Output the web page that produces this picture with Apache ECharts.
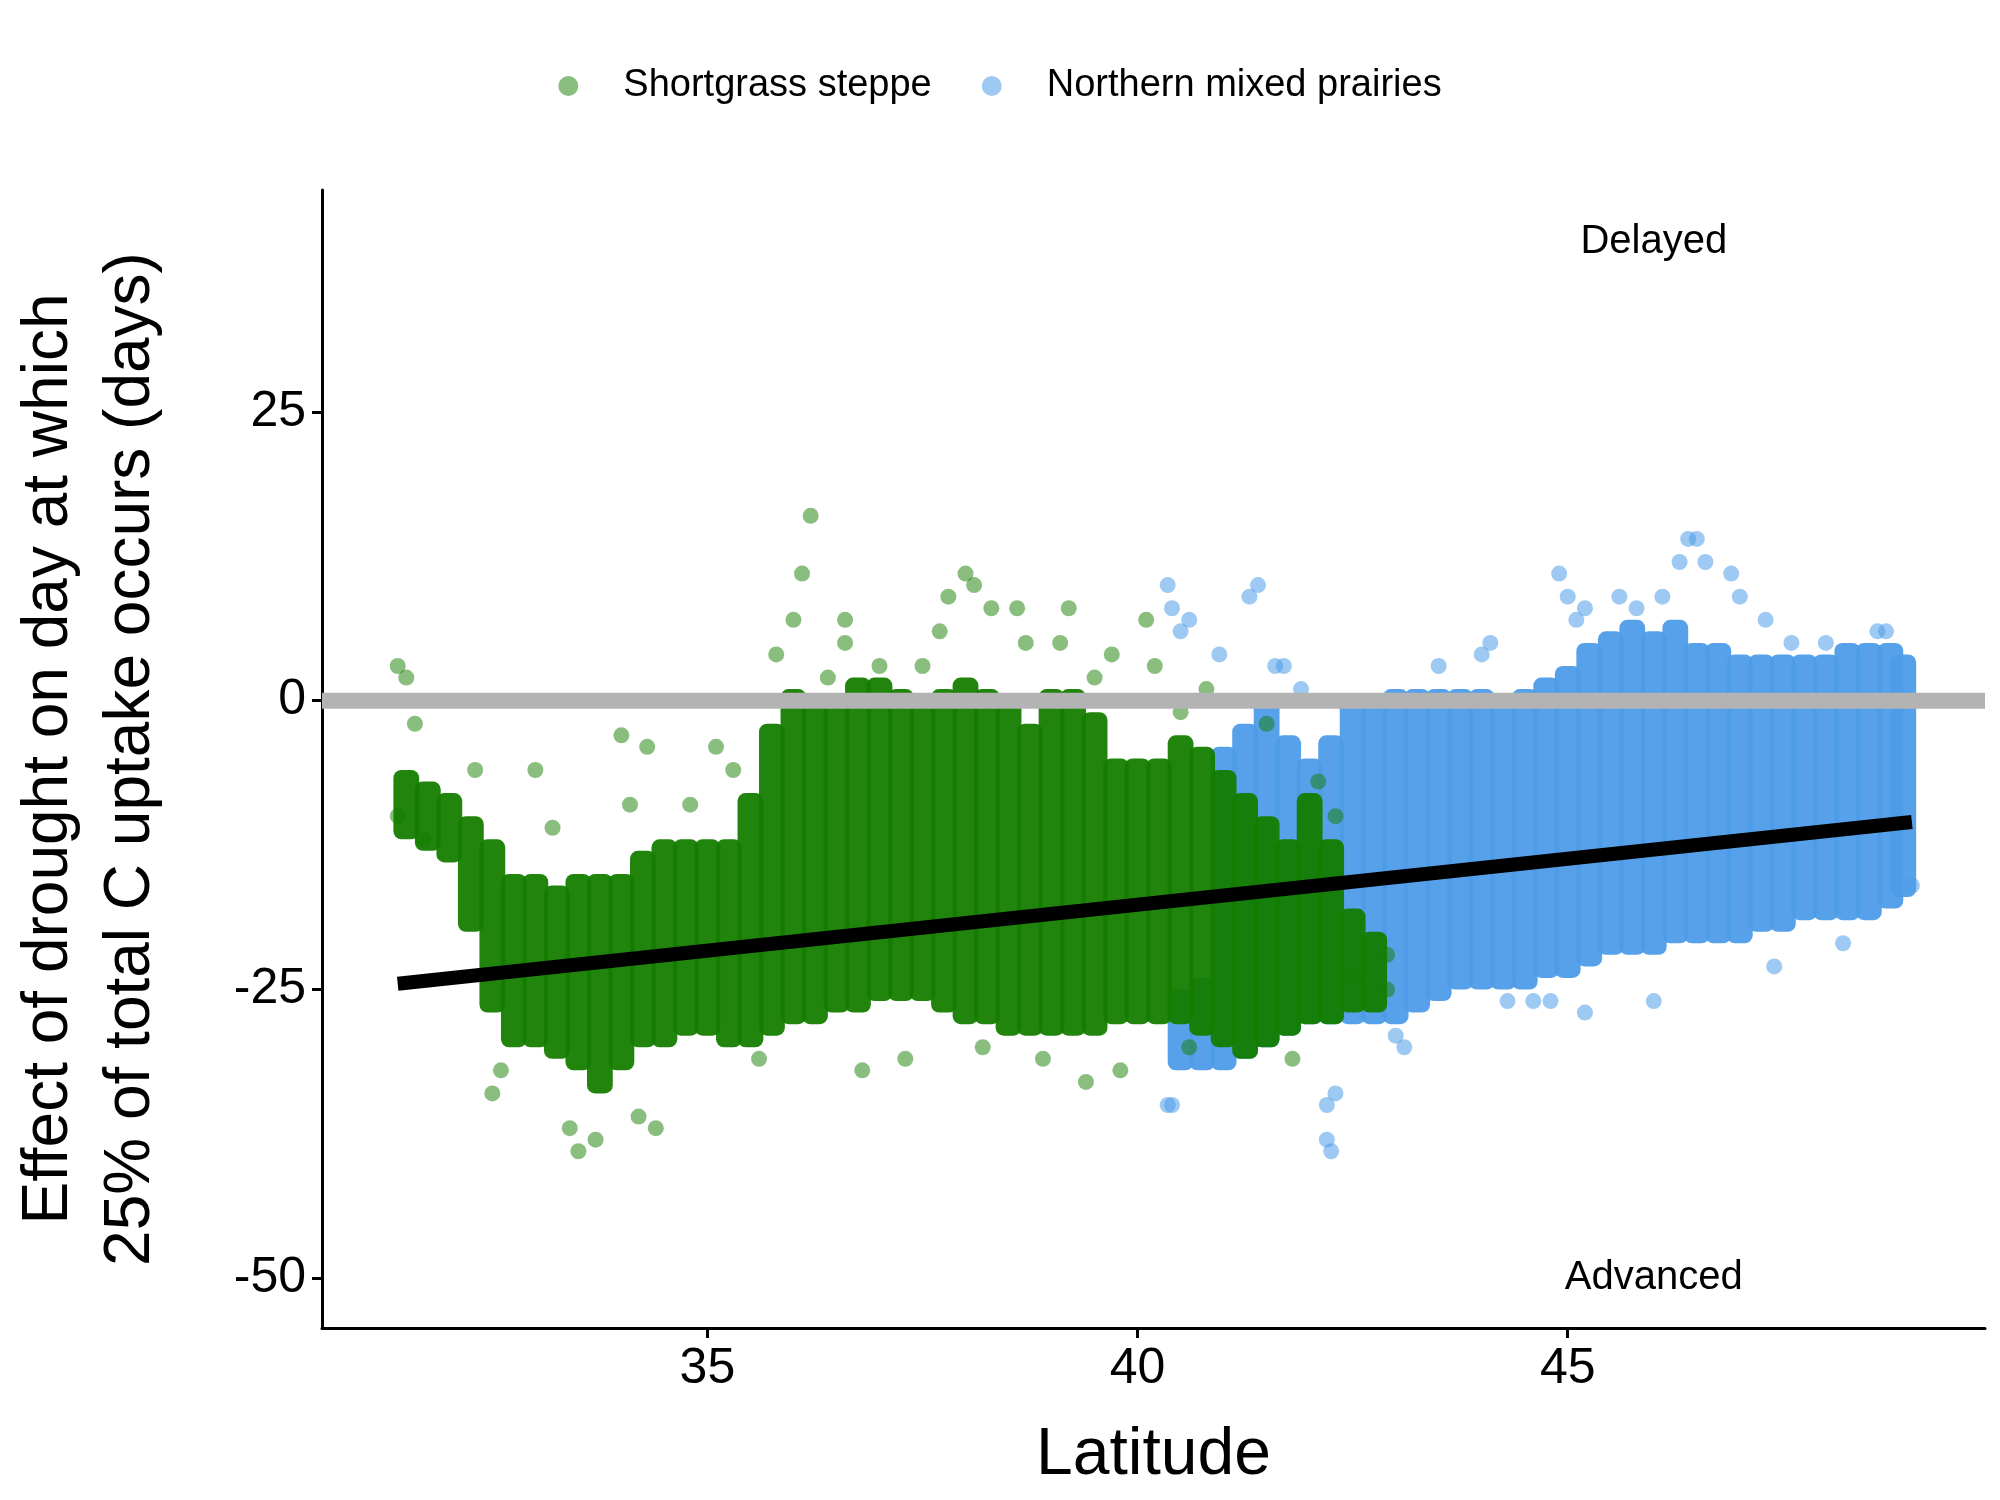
<!DOCTYPE html>
<html>
<head>
<meta charset="utf-8">
<script src="https://cdn.jsdelivr.net/npm/echarts@6/dist/echarts.min.js"></script>
<style>html,body{margin:0;background:#fff}#main{width:2000px;height:1500px}</style>
</head>
<body>
<div id="main"></div>
<script>
// dense core of each cloud: [latitude bin centre, low, high]
var greenCore = [[31.5,-12,-6],[31.75,-13,-7],[32.0,-14,-8],[32.25,-20,-10],[32.5,-27,-12],[32.75,-30,-15],
  [33.0,-30,-15],[33.25,-31,-16],[33.5,-32,-15],[33.75,-34,-15],[34.0,-32,-15],[34.25,-30,-13],[34.5,-30,-12],
  [34.75,-29,-12],[35.0,-29,-12],[35.25,-30,-12],[35.5,-30,-8],[35.75,-29,-2],[36.0,-28,1],[36.25,-28,0],
  [36.5,-27,0],[36.75,-27,2],[37.0,-26,2],[37.25,-26,1],[37.5,-26,0],[37.75,-27,1],[38.0,-28,2],[38.25,-28,1],
  [38.5,-29,0],[38.75,-29,-2],[39.0,-29,1],[39.25,-29,1],[39.5,-29,-1],[39.75,-28,-5],[40.0,-28,-5],
  [40.25,-28,-5],[40.5,-28,-3],[40.75,-29,-4],[41.0,-30,-6],[41.25,-31,-8],[41.5,-30,-10],[41.75,-29,-12],
  [42.0,-28,-8],[42.25,-28,-12],[42.5,-27,-18],[42.75,-27,-20]];
var blueCore = [[40.5,-32,-25],[40.75,-32,-24],[41.0,-32,-4],[41.25,-31,-2],[41.5,-30,0],[41.75,-29,-3],
  [42.0,-28,-5],[42.25,-28,-3],[42.5,-28,0],[42.75,-28,0],[43.0,-28,1],[43.25,-27,1],[43.5,-26,1],
  [43.75,-25,1],[44.0,-25,1],[44.25,-25,0],[44.5,-25,1],[44.75,-24,2],[45.0,-24,3],[45.25,-23,5],
  [45.5,-22,6],[45.75,-22,7],[46.0,-22,6],[46.25,-21,7],[46.5,-21,5],[46.75,-21,5],[47.0,-21,4],
  [47.25,-20,4],[47.5,-20,4],[47.75,-19,4],[48.0,-19,4],[48.25,-19,5],[48.5,-19,5],[48.75,-18,5],[48.9,-17,4]];
// scattered points outside the cores
var greenPts = [[31.4,3],[31.5,2],[31.6,-2],[31.4,-10],[31.7,-12],[32.3,-6],[32.5,-34],[32.6,-32],[33.0,-6],
  [33.4,-37],[33.5,-39],[33.7,-38],[34.0,-3],[34.1,-9],[34.3,-4],[34.2,-36],[34.4,-37],[35.1,-4],[35.6,-31],
  [35.8,4],[36.0,7],[36.1,11],[36.2,16],[36.4,2],[36.6,7],[36.6,5],[37.0,3],[37.3,-31],[37.5,3],[37.7,6],
  [37.8,9],[38.0,11],[38.1,10],[38.3,8],[38.6,8],[38.7,5],[38.9,-31],[39.1,5],[39.2,8],[39.5,2],[39.7,4],
  [39.8,-32],[40.2,3],[40.1,7],[40.5,-1],[40.8,1],[41.5,-2],[41.8,-31],[42.1,-7],[42.3,-10],[42.5,-24],
  [42.9,-22],[42.9,-25],[33.2,-11],[34.8,-9],[35.3,-6],[36.8,-32],[38.2,-30],[39.4,-33],[40.6,-30]];
var bluePts = [[40.35,10],[40.4,8],[40.5,6],[40.6,7],[40.35,-35],[40.4,-35],[40.95,4],[41.3,9],[41.4,10],
  [41.6,3],[41.7,3],[41.9,1],[42.2,-35],[42.2,-38],[42.25,-39],[42.3,-34],[43.5,3],[44.0,4],[44.1,5],
  [44.9,11],[45.0,9],[45.1,7],[45.2,8],[45.6,9],[45.8,8],[46.1,9],[46.3,12],[46.4,14],[46.5,14],[46.6,12],
  [46.9,11],[47.0,9],[47.3,7],[47.6,5],[48.0,5],[48.6,6],[48.7,6],[45.2,-27],[44.3,-26],[44.6,-26],
  [46.0,-26],[47.4,-23],[48.2,-21],[44.8,-26],[43.1,-30],[43.0,-29],[49.0,-16]];
var trend = [[31.4,-24.5],[49.0,-10.5]];
var notes = [[46.0, 39.7, 'Delayed'], [46.0, -50, 'Advanced']];
var xTicks = [35, 40, 45];
var yTicks = [-50, -25, 0, 25];

var GREEN = '#147d00', BLUE = '#4d9ce8';
function coreSeries(name, data, color, z) {
  return {
    name: name, type: 'custom', z: z, data: data, silent: true,
    renderItem: function (params, api) {
      var p1 = api.coord([api.value(0) - 0.15, api.value(2)]);
      var p2 = api.coord([api.value(0) + 0.15, api.value(1)]);
      return {type: 'rect', shape: {x: p1[0], y: p1[1], width: p2[0] - p1[0], height: p2[1] - p1[1], r: 8},
        style: {fill: color, opacity: 0.95}};
    }
  };
}
var chart = echarts.init(document.getElementById('main'));
chart.setOption({
  animation: false,
  textStyle: {fontFamily: 'Liberation Sans, Arial'},
  legend: {top: 62, left: 'center', itemGap: 50, icon: 'circle', itemWidth: 20, itemHeight: 20,
    textStyle: {fontSize: 38, color: '#000', padding: [0, 0, 0, 40]},
    data: ['Shortgrass steppe', 'Northern mixed prairies']},
  grid: {left: 297, right: 15, top: 190, bottom: 172},
  xAxis: {type: 'value', min: 30.52, max: 49.85, interval: 5,
    name: 'Latitude', nameLocation: 'middle', nameGap: 95, nameTextStyle: {fontSize: 66, color: '#000'},
    axisLine: {onZero: false, lineStyle: {color: '#000', width: 3}},
    axisTick: {show: true, length: 10, lineStyle: {width: 3}, customValues: xTicks},
    axisLabel: {fontSize: 50, color: '#000', margin: 16, customValues: xTicks},
    splitLine: {show: false}},
  yAxis: {type: 'value', min: -54.3, max: 44.2,
    name: 'Effect of drought on day at which\n25% of total C uptake occurs (days)', nameLocation: 'middle',
    nameGap: 150, nameTextStyle: {fontSize: 64, color: '#000', lineHeight: 82},
    axisLine: {show: true, onZero: false, lineStyle: {color: '#000', width: 3}},
    axisTick: {show: true, length: 10, lineStyle: {width: 3}, customValues: yTicks},
    axisLabel: {fontSize: 50, color: '#000', margin: 16, customValues: yTicks},
    splitLine: {show: false}},
  series: [
    {name: 'Shortgrass steppe', type: 'scatter', z: 4, data: greenPts, symbolSize: 16,
      itemStyle: {color: GREEN, opacity: 0.5}},
    {name: 'Northern mixed prairies', type: 'scatter', z: 2, data: bluePts, symbolSize: 16,
      itemStyle: {color: BLUE, opacity: 0.55}},
    coreSeries('Northern mixed prairies', blueCore, BLUE, 2),
    coreSeries('Shortgrass steppe', greenCore, GREEN, 4),
    {type: 'line', z: 6, symbol: 'none', silent: true, data: [[30.52, 0], [49.85, 0]],
      lineStyle: {color: '#b3b3b3', width: 16}},
    {type: 'line', z: 7, symbol: 'none', silent: true, data: trend,
      lineStyle: {color: '#000', width: 14}},
    {type: 'custom', z: 8, silent: true, data: notes,
      renderItem: function (params, api) {
        var p = api.coord([api.value(0), api.value(1)]);
        return {type: 'text', x: p[0], y: p[1],
          style: {text: notes[params.dataIndex][2], fill: '#000', fontSize: 40,
            fontFamily: 'Liberation Sans, Arial', align: 'center', verticalAlign: 'middle'}};
      }}
  ]
});
</script>
</body>
</html>
